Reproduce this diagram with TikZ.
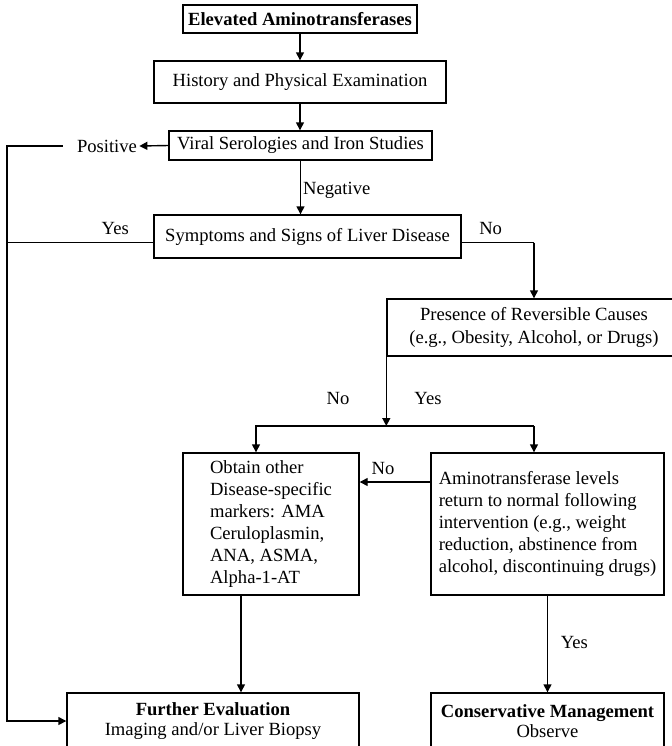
\documentclass[tikz,border=0pt]{standalone}
\usepackage{fontspec}
\setmainfont{Liberation Serif}
\usepackage{tikz}
\usetikzlibrary{arrows.meta, positioning, calc}

\begin{document}
\begin{tikzpicture}[x=.5pt, y=-.5pt, font=\fontsize{9.3}{11}\selectfont,
    box/.style={draw, line width=.7pt, inner sep=0pt, align=center},
    arr/.style={line width=.7pt, -{Triangle[length=4pt,width=4pt]}},
    line/.style={line width=.7pt},
    lbl/.style={inner sep=1pt}]
    \clip (0,0) rectangle (672,746);

    \node[box, minimum width=117pt, minimum height=14pt] (elev) at (300,19) {\textbf{Elevated Aminotransferases}};
    \node[box, minimum width=146pt, minimum height=21pt] (hist) at (300,82) {History and Physical Examination};
    \node[box, minimum width=131.5pt, minimum height=14.5pt] (viral) at (300.5,145.5) {Viral Serologies and Iron Studies};
    \node[box, minimum width=153.5pt, minimum height=21.5pt] (sympt) at (307.5,236.5) {Symptoms and Signs of Liver Disease};
    \node[box, minimum width=147pt, minimum height=28.5pt] (revers) at (534,327.5) {Presence of Reversible Causes\\[.5pt](e.g., Obesity, Alcohol, or Drugs)};

    \node[box, align=left, minimum width=88pt, minimum height=71pt] (markers) at (271,524) {Obtain other\\Disease-specific\\markers: AMA\\Ceruloplasmin,\\ANA, ASMA,\\Alpha-1-AT};
    \node[box, align=left, minimum width=116.5pt, minimum height=71pt] (amino) at (547.5,524) {Aminotransferase levels\\return to normal following\\intervention (e.g., weight\\reduction, abstinence from\\alcohol, discontinuing drugs)};

    \node[box, minimum width=146pt, minimum height=28pt] (further) at (213,721) {\textbf{Further Evaluation}\\[-1pt]Imaging and/or Liver Biopsy};
    \node[box, minimum width=116.5pt, minimum height=28pt] (conserv) at (547.5,721) {\textbf{Conservative Management}\\[-1pt]Observe};

    \node[lbl] (pos) at (107,146) {Positive};
    \node[lbl] (nolbl) at (338,398) {No};
    \node[lbl] (yeslbl) at (428,398) {Yes};

    \coordinate (lb) at (7,721);
    \coordinate (yes) at ([yshift=-3pt]sympt.west);
    \coordinate (no) at ([yshift=-3pt]sympt.east);
    \coordinate (sl) at (256,426);
    \coordinate (back) at ([yshift=21pt]amino.west);
    \coordinate (ms) at ([xshift=-15pt]markers.south);

    \draw[arr] (elev) -- (hist);
    \draw[arr] (hist.south) -- (hist.south |- viral.north);
    \draw[arr] (viral.west) -- (pos.east);
    \draw[arr] ([xshift=-6pt]pos.west) -| (lb) -- (further.west);
    \draw[arr] (viral.south) -- node[right, pos=.56, lbl]{Negative} (viral.south |- sympt.north);

    \draw[line] (yes) -- node[above, pos=.26]{Yes} (yes -| lb);
    \draw[line] (no) -- node[above, pos=.4]{No} (no -| revers.north);
    \draw[arr] (no -| revers.north) -- (revers.north);

    \draw[arr] (revers.south west) -- (revers.south west |- sl);
    \draw[arr] (revers.south |- sl) -- (sl) -- (sl |- markers.north);
    \draw[arr] (revers.south |- sl) -- (revers.south |- amino.north);

    \draw[arr] (back) -- node[above, pos=.67]{No} (back -| markers.east);
    \draw[arr] (ms) -- (ms |- further.north);
    \draw[arr] (amino) -- node[right, pos=.48, xshift=3pt]{Yes} (conserv);
\end{tikzpicture}
\end{document}
